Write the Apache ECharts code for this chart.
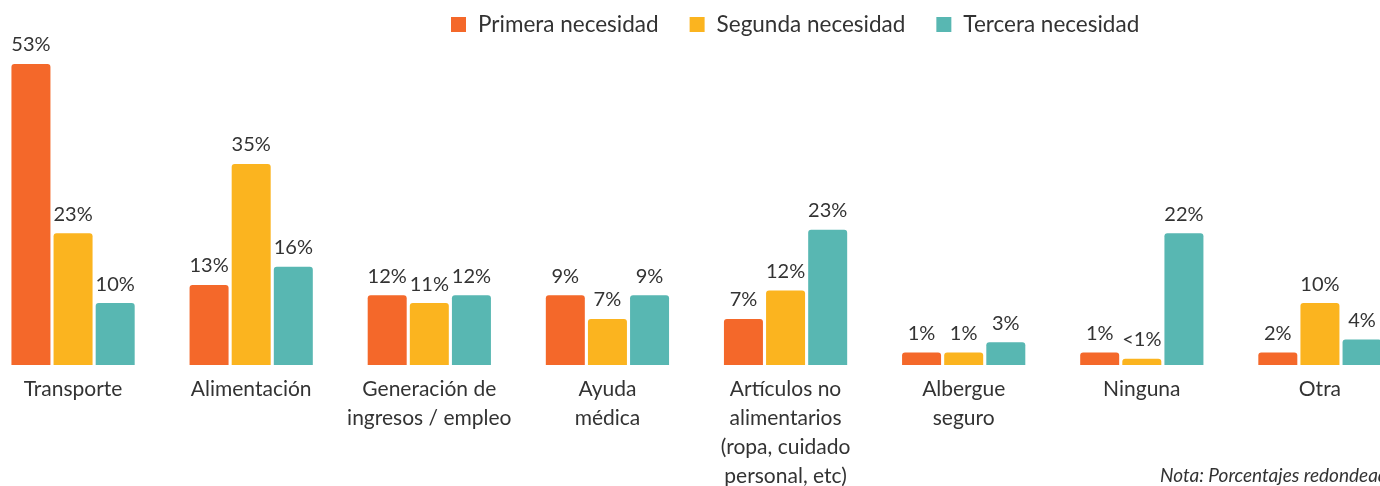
<!DOCTYPE html>
<html>
<head>
<meta charset="utf-8">
<script src="https://cdn.jsdelivr.net/npm/echarts@6/dist/echarts.min.js"></script>
<style>
  html, body { margin: 0; padding: 0; background: #fff; overflow: hidden; }
  #wrap { position: relative; width: 1380px; height: 486px; overflow: hidden; }
  #chart { position: absolute; left: -16px; top: 0; width: 1425px; height: 486px; }
</style>
</head>
<body>
<div id="wrap"><div id="chart"></div></div>
<script>
// categories (line breaks as in the original)
const categories = [
  "Transporte",
  "Alimentación",
  "Generación de\ningresos / empleo",
  "Ayuda\nmédica",
  "Artículos no\nalimentarios\n(ropa, cuidado\npersonal, etc)",
  "Albergue\nseguro",
  "Ninguna",
  "Otra"
];

// bar heights as drawn (percent)
const primera = [53, 14.1, 12.3, 12.3, 8.1, 2.2, 2.2, 2.2];
const segunda = [23.2, 35.4, 10.9, 8.1, 13.1, 2.2, 1.1, 10.9];
const tercera = [10.9, 17.3, 12.3, 12.3, 23.8, 4.0, 23.2, 4.5];

// printed labels
const primeraLabels = ["53%", "13%", "12%", "9%", "7%", "1%", "1%", "2%"];
const segundaLabels = ["23%", "35%", "11%", "7%", "12%", "1%", "<1%", "10%"];
const terceraLabels = ["10%", "16%", "12%", "9%", "23%", "3%", "22%", "4%"];

const seriesNames = ["Primera necesidad", "Segunda necesidad", "Tercera necesidad"];
const colors = ["#F4682A", "#FBB41F", "#58B7B2"];

// the chart div sits 16px left of the visible area
const shift = 16;

const chart = echarts.init(document.getElementById("chart"));

function makeSeries(name, data, labels, color) {
  return {
    name: name,
    type: "bar",
    data: data,
    barWidth: 39,
    barGap: "8%",
    itemStyle: {
      color: color,
      borderRadius: [3, 3, 0, 0]
    },
    label: {
      show: true,
      position: "top",
      distance: 9,
      color: "#333",
      fontFamily: "Lato",
      fontSize: 20,
      formatter: (p) => labels[p.dataIndex]
    }
  };
}

chart.setOption({
  color: colors,
  animation: false,
  legend: {
    top: 8,
    left: 446 + shift,
    itemWidth: 15,
    itemHeight: 15,
    itemGap: 31,
    icon: "rect",
    textStyle: {
      color: "#333",
      fontFamily: "Lato",
      fontSize: 22.5,
      padding: [0, 0, 0, 7]
    },
    data: seriesNames
  },
  grid: {
    left: 0,
    right: 0,
    top: 24.2,
    bottom: 121,
    containLabel: false,
    outerBoundsMode: "none"
  },
  xAxis: {
    type: "category",
    data: categories,
    axisLine: { show: false },
    axisTick: { show: false },
    axisLabel: {
      interval: 0,
      margin: 10,
      color: "#333",
      fontFamily: "Lato",
      fontSize: 21,
      lineHeight: 29
    }
  },
  yAxis: {
    type: "value",
    min: 0,
    max: 60,
    show: false,
    splitLine: { show: false }
  },
  graphic: [
    {
      type: "text",
      left: 1160 + shift,
      top: 466,
      style: {
        text: "Nota: Porcentajes redondeados",
        fill: "#333",
        font: "italic 19px Lato"
      }
    }
  ],
  series: [
    makeSeries(seriesNames[0], primera, primeraLabels, colors[0]),
    makeSeries(seriesNames[1], segunda, segundaLabels, colors[1]),
    makeSeries(seriesNames[2], tercera, terceraLabels, colors[2])
  ]
});
</script>
</body>
</html>
